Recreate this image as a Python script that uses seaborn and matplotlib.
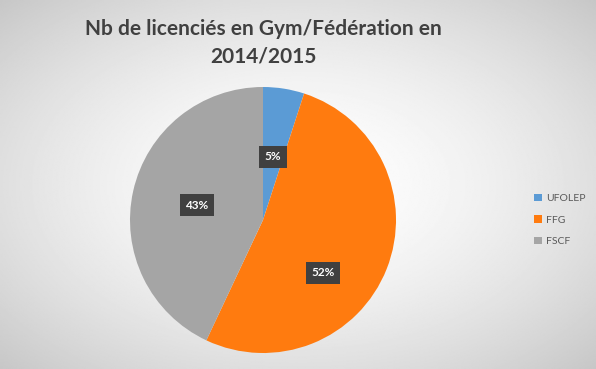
import numpy as np
import matplotlib
matplotlib.use("Agg")
import matplotlib.pyplot as plt
import seaborn as sns

# Data
categories = ["UFOLEP", "FFG", "FSCF"]
shares = [5, 52, 43]
colors = ["#5B9BD5", "#FF7B0F", "#A5A5A5"]
title = "Nb de licenciés en Gym/Fédération en\n2014/2015"

sns.set_theme(style="white")
plt.rcParams['font.family'] = ['Lato', 'DejaVu Sans']

fig = plt.figure(figsize=(5.96, 3.69), dpi=100)

# radial gradient background
bg = fig.add_axes([0, 0, 1, 1])
yy, xx = np.mgrid[-1:1:300j, -1:1:480j]
r = np.sqrt(xx**2 + yy**2) / np.sqrt(2)
grad = 1.0 - 0.22 * r**1.6
bg.imshow(grad, cmap="gray", vmin=0, vmax=1, extent=[0, 1, 0, 1], aspect="auto")
bg.set_axis_off()

cx, cy, rad = 263 / 596, 1 - 220 / 369, 133
ax = fig.add_axes([cx - rad / 596, cy - rad / 369, 2 * rad / 596, 2 * rad / 369])
wedges, _ = ax.pie(shares, colors=colors, startangle=90, counterclock=False,
                   radius=1, wedgeprops=dict(linewidth=0))
ax.set_xlim(-1, 1)
ax.set_ylim(-1, 1)
ax.set_aspect("equal")
ax.set_axis_off()

label_r = [0.48, 0.6, 0.51]
label_shift = [0, -20, 0]
for w, s, lr, sh in zip(wedges, shares, label_r, label_shift):
    ang = np.deg2rad((w.theta1 + w.theta2) / 2 + sh)
    ax.text(lr * np.cos(ang), lr * np.sin(ang), f"{s}%", ha="center", va="center",
            color="white", fontsize=8.5, fontweight="bold",
            bbox=dict(boxstyle="square,pad=0.45", fc="#404040", ec="none"))

fig.text(263 / 596, 1 - 43 / 369, title, ha="center", va="center", fontsize=15,
         fontweight="bold", color="#404040", linespacing=1.45)

leg = fig.legend(wedges, categories, loc="center left", bbox_to_anchor=(525 / 596, cy),
                 frameon=False, fontsize=7.5, labelcolor="#595959", handlelength=0.7,
                 handleheight=0.7, handletextpad=0.4, labelspacing=1.2)

fig.savefig("out.png", dpi=100)
